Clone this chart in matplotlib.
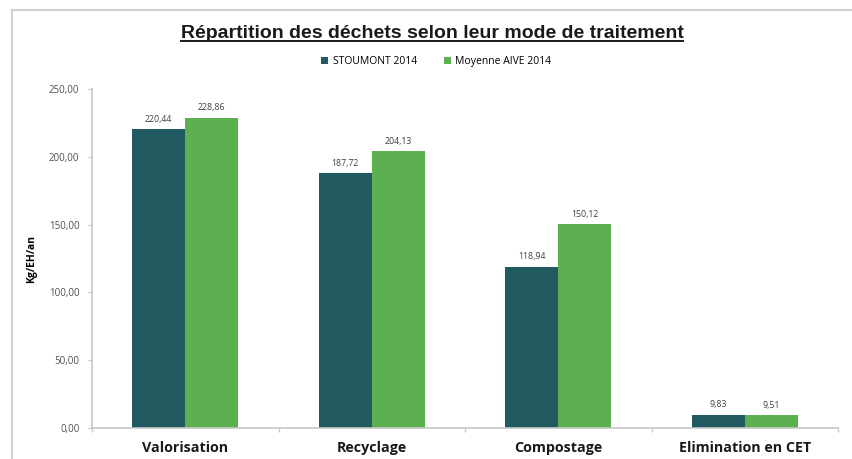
import matplotlib
matplotlib.use("Agg")
import matplotlib.pyplot as plt
from matplotlib.lines import Line2D
from matplotlib.ticker import FuncFormatter
import numpy as np

categories = ["Valorisation", "Recyclage", "Compostage", "Elimination en CET"]
series_names = ["STOUMONT 2014", "Moyenne AIVE 2014"]
stoumont = [220.44, 187.72, 118.94, 9.83]
aive = [228.86, 204.13, 150.12, 9.51]
y_ticks = [0, 50, 100, 150, 200, 250]

colors = ["#215a60", "#5db04f"]

fig = plt.figure(figsize=(8.52, 4.59), dpi=100)
ax = fig.add_axes([0.108, 0.0675, 0.8756, 0.7385])

x = np.arange(len(categories))
w = 0.285
b1 = ax.bar(x - w / 2, stoumont, w, color=colors[0], label=series_names[0])
b2 = ax.bar(x + w / 2, aive, w, color=colors[1], label=series_names[1])

def fr(v, pos=None):
    return f"{v:,.2f}".replace(",", " ").replace(".", ",")

for bars, vals in ((b1, stoumont), (b2, aive)):
    for r, v in zip(bars, vals):
        ax.text(r.get_x() + r.get_width() / 2, v + 4, fr(v), ha="center", va="bottom",
                fontsize=6.3, color="#404040", family="Open Sans")

ax.set_xlim(-0.5, len(categories) - 0.5)
ax.set_ylim(0, 250)
ax.set_yticks(y_ticks)
ax.yaxis.set_major_formatter(FuncFormatter(fr))
ax.set_xticks(x)
ax.set_xticklabels(categories, fontsize=10.3, fontweight="bold", family="Open Sans", color="#1a1a1a")
ax.set_xticks(np.arange(len(categories) + 1) - 0.5, minor=True)
ax.tick_params(axis="x", which="major", length=0, pad=9)
ax.tick_params(axis="x", which="minor", length=3, color="#c8c8c8", width=1)
ax.tick_params(axis="y", length=3, color="#c8c8c8", labelsize=7, labelcolor="#505050", pad=6)
for lbl in ax.get_yticklabels():
    lbl.set_family("Open Sans")

for s in ["top", "right"]:
    ax.spines[s].set_visible(False)
for s in ["left", "bottom"]:
    ax.spines[s].set_color("#c8c8c8")
    ax.spines[s].set_linewidth(1.2)

ax.set_ylabel("Kg/EH/an", fontsize=7.5, fontweight="bold", family="Open Sans")
ax.yaxis.set_label_coords(-0.074, 0.5)

leg = fig.legend(handles=[b1, b2], labels=series_names, loc="center", bbox_to_anchor=(0.512, 0.865),
                 ncol=2, frameon=False, handlelength=0.7, handleheight=0.7,
                 columnspacing=2.6, handletextpad=0.4, prop={"family": "Open Sans", "size": 7.5})

title = fig.text(0.507, 0.928, "Répartition des déchets selon leur mode de traitement",
                 ha="center", va="center", fontsize=14, fontweight="bold", family="Liberation Sans",
                 color="#1a1a1a")

fig.canvas.draw()
bb = title.get_window_extent().transformed(fig.transFigure.inverted())
fig.add_artist(Line2D([bb.x0, bb.x1], [bb.y0 + 0.002, bb.y0 + 0.002], transform=fig.transFigure,
                      color="#1a1a1a", lw=1.4))

# outer frame (top and left)
fig.add_artist(Line2D([12 / 852, 1.0], [1 - 10 / 459, 1 - 10 / 459], transform=fig.transFigure,
                      color="#d0d0d0", lw=1.5))
fig.add_artist(Line2D([12 / 852, 12 / 852], [1 - 10 / 459, 0.0], transform=fig.transFigure,
                      color="#d0d0d0", lw=1.5))

fig.savefig("out.png", dpi=100)
